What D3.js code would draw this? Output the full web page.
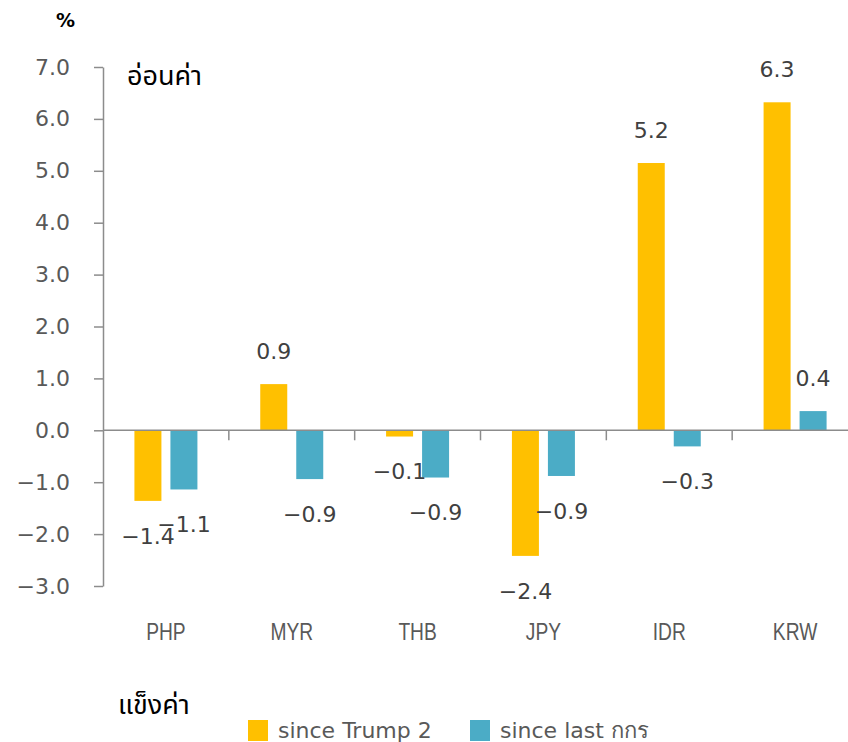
<!DOCTYPE html>
<html>
<head>
<meta charset="utf-8">
<script src="https://cdn.jsdelivr.net/npm/d3@7"></script>
<style>
  html, body { margin: 0; padding: 0; background: #fff; }
  svg { display: block; }
</style>
</head>
<body>
<svg id="chart" width="848" height="742"></svg>
<script>
// Currency moves, % change
const categories = ["PHP", "MYR", "THB", "JPY", "IDR", "KRW"];
const seriesNames = ["since Trump 2", "since last กกร"];
const sinceTrump = [-1.36, 0.89, -0.12, -2.42, 5.15, 6.32];
const sinceLast = [-1.14, -0.94, -0.91, -0.88, -0.31, 0.37];
const yTicks = [-3, -2, -1, 0, 1, 2, 3, 4, 5, 6, 7];
const colors = ["#FFC000", "#4BACC6"];

const svg = d3.select("#chart");
const numFont = "DejaVu Sans, Verdana, sans-serif";
const axisColor = "#8c8c8c";
const fmt = v => v.toFixed(1).replace("-", "\u2212");

const y = d3.scaleLinear().domain([-3, 7]).range([586, 67]);
const x = d3.scaleBand().domain(categories).range([103, 858]).paddingInner(0).paddingOuter(0);
const groupW = 63;
const x1 = d3.scaleBand().domain(seriesNames)
  .range([x.bandwidth() / 2 - groupW / 2, x.bandwidth() / 2 + groupW / 2])
  .paddingInner(0.25).paddingOuter(0);

const rows = categories.map((c, i) => ({
  cat: c,
  vals: [
    { s: seriesNames[0], v: sinceTrump[i], c: colors[0] },
    { s: seriesNames[1], v: sinceLast[i], c: colors[1] }
  ]
}));

// bars
const groups = svg.append("g").selectAll("g").data(rows).join("g")
  .attr("transform", d => `translate(${x(d.cat)},0)`);
groups.selectAll("rect").data(d => d.vals).join("rect")
  .attr("x", d => x1(d.s))
  .attr("width", x1.bandwidth())
  .attr("y", d => y(Math.max(0, d.v)))
  .attr("height", d => Math.abs(y(d.v) - y(0)))
  .attr("fill", d => d.c);

// value labels
groups.selectAll("text").data(d => d.vals).join("text")
  .attr("x", d => x1(d.s) + x1.bandwidth() / 2)
  .attr("y", d => d.v >= 0 ? y(d.v) - 33 : y(d.v) + 35)
  .attr("dy", "0.36em")
  .attr("text-anchor", "middle")
  .attr("font-family", numFont)
  .attr("font-size", 22)
  .attr("fill", "#404040")
  .text(d => fmt(d.v));

// y axis
const yAxis = svg.append("g").attr("transform", "translate(103,0)")
  .call(d3.axisLeft(y).tickValues(yTicks).tickSize(9).tickSizeOuter(0).tickPadding(24)
    .tickFormat(fmt));
yAxis.select(".domain").attr("stroke", axisColor).attr("stroke-width", 1.5);
yAxis.selectAll(".tick line").attr("stroke", axisColor).attr("stroke-width", 1.5);
yAxis.selectAll(".tick text").attr("font-family", numFont).attr("font-size", 22).attr("fill", "#595959");

// x axis line with boundary ticks
svg.append("line")
  .attr("x1", 103).attr("x2", 858).attr("y1", y(0)).attr("y2", y(0))
  .attr("stroke", axisColor).attr("stroke-width", 1.5);
svg.append("g").selectAll("line").data(categories.slice(0, -1)).join("line")
  .attr("x1", d => x(d) + x.step()).attr("x2", d => x(d) + x.step())
  .attr("y1", y(0)).attr("y2", y(0) + 10)
  .attr("stroke", axisColor).attr("stroke-width", 1.5);

// category labels (condensed)
svg.append("g").selectAll("text").data(categories).join("text")
  .attr("transform", d => `translate(${x(d) + x.bandwidth() / 2},640) scale(0.8,1)`)
  .attr("text-anchor", "middle")
  .attr("font-family", "Liberation Sans, Arial, sans-serif")
  .attr("font-size", 24)
  .attr("fill", "#595959")
  .text(d => d);

// unit and direction notes
svg.append("text").attr("x", 56).attr("y", 27)
  .attr("font-family", "DejaVu Sans, sans-serif").attr("font-weight", "bold")
  .attr("font-size", 19).attr("fill", "#000").text("%");
svg.append("text").attr("x", 127).attr("y", 85)
  .attr("font-family", "Noto Sans Thai, Tahoma, sans-serif")
  .attr("font-size", 27).attr("fill", "#000").text("อ่อนค่า");
svg.append("text").attr("x", 118).attr("y", 714)
  .attr("font-family", "Noto Sans Thai, Tahoma, sans-serif")
  .attr("font-size", 27).attr("fill", "#000").text("แข็งค่า");

// legend
const legendX = [248, 470];
const legend = svg.append("g").selectAll("g").data(seriesNames).join("g")
  .attr("transform", (d, i) => `translate(${legendX[i]},720)`);
legend.append("rect").attr("width", 20).attr("height", 21)
  .attr("fill", (d, i) => colors[i]);
legend.append("text").attr("x", 30).attr("y", 18)
  .attr("font-family", numFont).attr("font-size", 22).attr("fill", "#595959")
  .text(d => d);
</script>
</body>
</html>
